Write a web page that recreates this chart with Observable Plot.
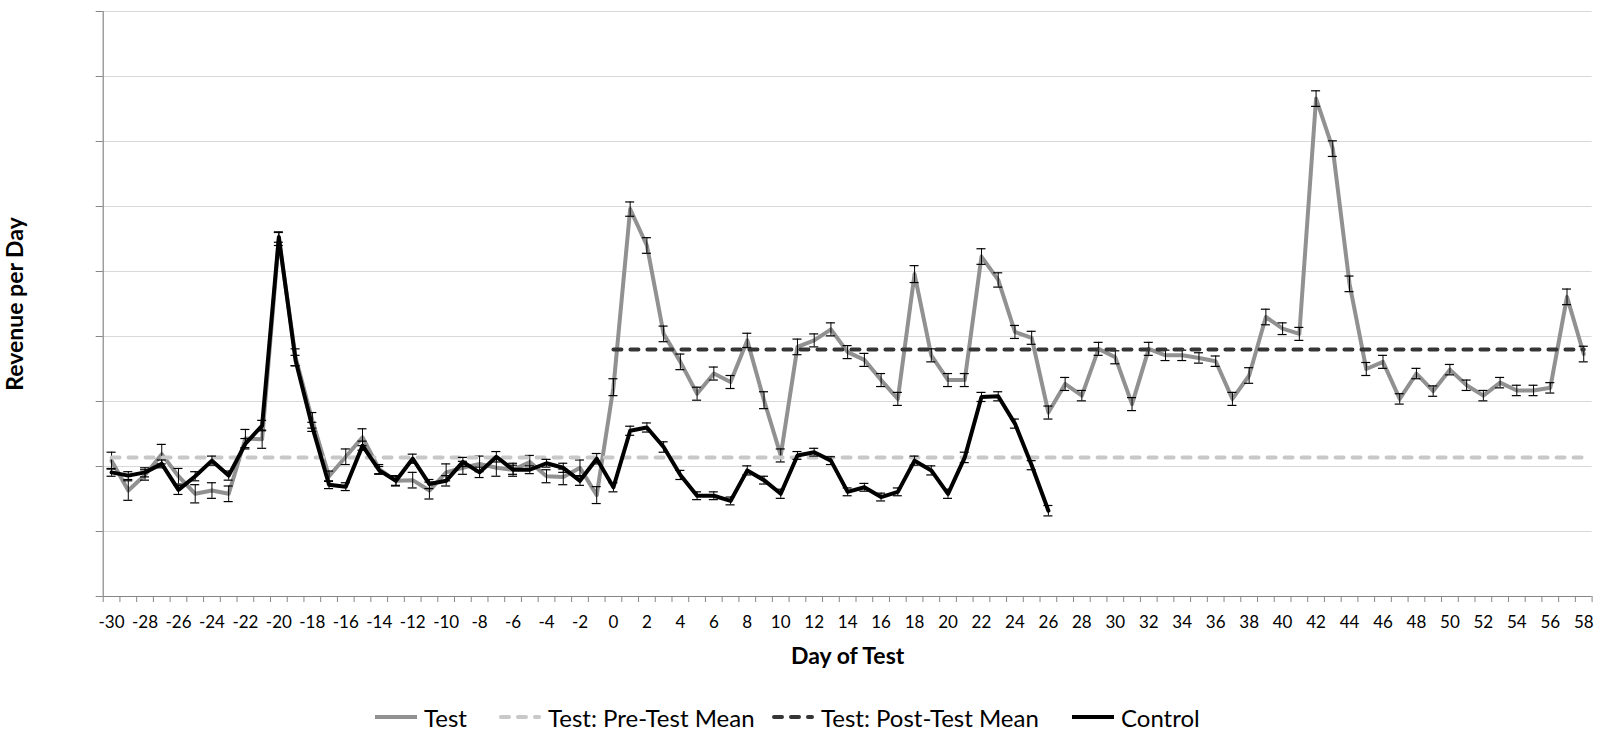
<!DOCTYPE html>
<html><head><meta charset="utf-8">
<script src="https://cdn.jsdelivr.net/npm/d3@7"></script>
<script src="https://cdn.jsdelivr.net/npm/@observablehq/plot@0.6"></script>
<style>
body{margin:0;background:#fff;font-family:Lato, "Noto Sans", sans-serif;}
#chart{position:absolute;left:0;top:0;}
#legend{position:absolute;left:0;top:700px;width:1600px;height:34px;font-size:24px;color:#000}
.item{position:absolute;top:0;height:34px;display:flex;align-items:center;gap:7px;white-space:nowrap}
</style></head><body>
<div id="chart"></div>
<div id="legend"></div>
<script>
// Categories (day of test)
const days = d3.range(-30, 59);
const controlDays = d3.range(-30, 27);
const xTickLabels = d3.range(-30, 59, 2);
const yGridValues = [1, 2, 3, 4, 5, 6, 7, 8, 9];
const yTickValues = [0, 1, 2, 3, 4, 5, 6, 7, 8, 9];

// Test series (-30 .. 58)
const testValues = [
  2.09, 1.63, 1.87, 2.19, 1.85, 1.58, 1.63, 1.58, 2.43, 2.42,
  5.50, 3.68, 2.71, 1.85, 2.15, 2.45, 1.96, 1.78, 1.79, 1.63,
  1.91, 1.98, 2.04, 1.98, 1.95, 2.07, 1.85, 1.84, 1.98, 1.56,
  3.22, 5.96, 5.40, 4.04, 3.61, 3.12, 3.43, 3.30, 3.94, 3.02,
  2.17, 3.84, 3.94, 4.11, 3.76, 3.64, 3.33, 3.04, 4.96, 3.71,
  3.33, 3.33, 5.23, 4.87, 4.07, 3.98, 2.83, 3.27, 3.09, 3.81,
  3.68, 2.96, 3.81, 3.71, 3.71, 3.67, 3.62, 3.04, 3.40, 4.30,
  4.12, 4.04, 7.66, 6.89, 4.81, 3.50, 3.61, 3.04, 3.43, 3.16,
  3.49, 3.25, 3.09, 3.29, 3.17, 3.17, 3.21, 4.61, 3.73
];
const testErrors = [
  0.13, 0.15, 0.08, 0.15, 0.12, 0.14, 0.12, 0.12, 0.14, 0.14,
  0.10, 0.13, 0.12, 0.08, 0.12, 0.13, 0.07, 0.08, 0.12, 0.13,
  0.13, 0.10, 0.12, 0.13, 0.10, 0.10, 0.10, 0.12, 0.12, 0.13,
  0.13, 0.11, 0.12, 0.12, 0.12, 0.10, 0.10, 0.10, 0.11, 0.13,
  0.10, 0.12, 0.10, 0.10, 0.10, 0.10, 0.10, 0.10, 0.13, 0.10,
  0.10, 0.10, 0.12, 0.11, 0.10, 0.10, 0.10, 0.10, 0.08, 0.10,
  0.10, 0.10, 0.10, 0.08, 0.08, 0.08, 0.08, 0.10, 0.12, 0.12,
  0.09, 0.10, 0.12, 0.12, 0.12, 0.10, 0.10, 0.08, 0.08, 0.08,
  0.08, 0.08, 0.08, 0.08, 0.08, 0.08, 0.08, 0.12, 0.12
];

// Control series (-30 .. 26)
const controlValues = [
  1.91, 1.86, 1.91, 2.04, 1.64, 1.85, 2.09, 1.86, 2.35, 2.63,
  5.53, 3.63, 2.61, 1.72, 1.69, 2.32, 1.94, 1.78, 2.12, 1.73,
  1.78, 2.07, 1.91, 2.15, 1.95, 1.95, 2.05, 1.98, 1.78, 2.12,
  1.68, 2.55, 2.60, 2.30, 1.87, 1.55, 1.55, 1.47, 1.94, 1.79,
  1.58, 2.17, 2.22, 2.09, 1.61, 1.68, 1.53, 1.61, 2.09, 1.94,
  1.58, 2.14, 3.07, 3.08, 2.66, 2.02, 1.32
];
const controlErrors = [
  0.06, 0.06, 0.07, 0.06, 0.07, 0.07, 0.07, 0.07, 0.08, 0.08,
  0.08, 0.08, 0.07, 0.06, 0.06, 0.07, 0.06, 0.07, 0.07, 0.07,
  0.08, 0.07, 0.08, 0.08, 0.07, 0.06, 0.06, 0.07, 0.07, 0.08,
  0.07, 0.07, 0.07, 0.08, 0.07, 0.06, 0.06, 0.06, 0.07, 0.06,
  0.07, 0.06, 0.06, 0.06, 0.06, 0.06, 0.06, 0.06, 0.07, 0.07,
  0.07, 0.08, 0.07, 0.07, 0.07, 0.07, 0.08
];

// Means
const preTestMean = 2.14;
const postTestMean = 3.80;
const preMeanDays = [-30, 58];
const postMeanDays = [0, 58];

const colors = {test: "#919191", pre: "#c8c8c8", post: "#353535", control: "#000000"};

const test = days.map((d, i) => ({day: d, value: testValues[i], err: testErrors[i]}));
const control = controlDays.map((d, i) => ({day: d, value: controlValues[i], err: controlErrors[i]}));
const preMean = preMeanDays.map(d => ({day: d, value: preTestMean}));
const postMean = postMeanDays.map(d => ({day: d, value: postTestMean}));
const boundaries = d3.range(-30.5, 59, 1);
const cap = 0.27;

function errorBars(data) {
  return [
    Plot.ruleX(data, {x: "day", y1: d => d.value - d.err, y2: d => d.value + d.err, stroke: "#000", strokeWidth: 1}),
    Plot.ruleY(data, {x1: d => d.day - cap, x2: d => d.day + cap, y: d => d.value + d.err, stroke: "#000", strokeWidth: 1.2}),
    Plot.ruleY(data, {x1: d => d.day - cap, x2: d => d.day + cap, y: d => d.value - d.err, stroke: "#000", strokeWidth: 1.2})
  ];
}

const chart = Plot.plot({
  width: 1600,
  height: 690,
  marginLeft: 102.7,
  marginRight: 8.4,
  marginTop: 11,
  marginBottom: 94,
  x: {type: "linear", domain: [-30.5, 58.5], axis: null},
  y: {domain: [0, 9], axis: null},
  style: {fontFamily: "Lato, 'Noto Sans', sans-serif", background: "#fff", color: "#000"},
  marks: [
    Plot.gridY(yGridValues, {stroke: "#d9d9d9", strokeOpacity: 1, strokeWidth: 1}),
    Plot.axisX(boundaries, {tickSize: 6, tickFormat: () => "", stroke: "#868686", strokeOpacity: 1, label: null}),
    Plot.axisX(xTickLabels, {tickSize: 0, tickPadding: 19, fontSize: 17, fill: "#000", label: null, tickFormat: d => String(d)}),
    Plot.axisY(yTickValues, {tickSize: 7, tickFormat: () => "", stroke: "#868686", strokeOpacity: 1, label: null}),
    Plot.ruleY([0], {stroke: "#868686", strokeWidth: 1.2}),
    Plot.ruleX([-30.5], {stroke: "#868686", strokeWidth: 1.2}),
    Plot.line(test, {x: "day", y: "value", stroke: colors.test, strokeWidth: 4}),
    ...errorBars(test),
    Plot.line(preMean, {x: "day", y: "value", stroke: colors.pre, strokeWidth: 4, strokeDasharray: "8,9", strokeLinecap: "round"}),
    Plot.line(postMean, {x: "day", y: "value", stroke: colors.post, strokeWidth: 4, strokeDasharray: "8,9", strokeLinecap: "round"}),
    Plot.line(control, {x: "day", y: "value", stroke: colors.control, strokeWidth: 4}),
    ...errorBars(control),
    Plot.text(["Day of Test"], {text: d => d, frameAnchor: "bottom", dy: 67, fontSize: 23, fontWeight: "bold", fill: "#000"}),
    Plot.text(["Revenue per Day"], {text: d => d, frameAnchor: "left", textAnchor: "middle", dx: -88, rotate: -90, fontSize: 23, fontWeight: "bold", fill: "#000"})
  ]
});
document.getElementById("chart").appendChild(chart);

// Legend
const legendItems = [
  {label: "Test", color: colors.test, dash: null, left: 375},
  {label: "Test: Pre-Test Mean", color: colors.pre, dash: "8,9", left: 499},
  {label: "Test: Post-Test Mean", color: colors.post, dash: "8,9", left: 772},
  {label: "Control", color: colors.control, dash: null, left: 1072}
];
const legend = d3.select("#legend");
for (const it of legendItems) {
  const item = legend.append("div").attr("class", "item").style("left", it.left + "px");
  const svg = item.append("svg").attr("width", 42).attr("height", 8);
  svg.append("line").attr("x1", it.dash ? 2 : 0).attr("x2", it.dash ? 40 : 42).attr("y1", 4).attr("y2", 4)
    .attr("stroke", it.color).attr("stroke-width", 4)
    .attr("stroke-dasharray", it.dash).attr("stroke-linecap", it.dash ? "round" : "butt");
  item.append("span").text(it.label);
}
</script>
</body></html>
